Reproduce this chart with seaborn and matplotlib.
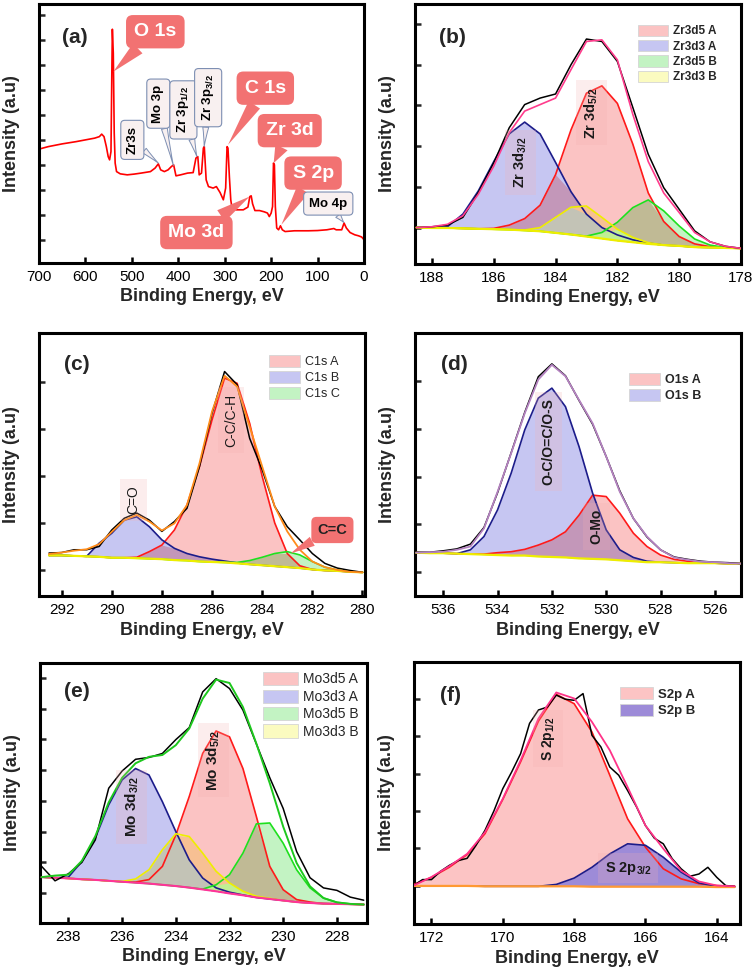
import matplotlib
matplotlib.use("Agg")
import matplotlib.pyplot as plt
import matplotlib.colors as mcolors
from matplotlib.patches import Patch
import numpy as np
import seaborn as sns

# ---------------- (a) survey spectrum ----------------
SURVEY_EV = [700, 680, 650, 620, 600, 580, 570, 565, 560, 555, 551, 548, 545, 543, 542, 540, 538, 536,
             533, 525, 510, 495, 480, 460, 450, 443, 438, 430, 422, 415, 410, 405, 395, 380, 368, 362,
             358, 355, 350, 346, 344, 340, 335, 325, 318, 310, 303, 298, 295, 293, 290, 287, 284, 275,
             260, 250, 246, 243, 240, 235, 225, 215, 208, 204, 200, 197, 195, 193, 191, 188, 184, 180,
             176, 170, 150, 120, 100, 80, 65, 60, 48, 43, 38, 30, 20, 12, 5, 0]
SURVEY_I = [4.63, 4.73, 4.84, 4.93, 5.00, 5.07, 5.13, 5.23, 5.13, 4.73, 4.33, 4.20, 4.53, 7.93, 9.43, 8.47,
            5.27, 4.07, 3.73, 3.64, 3.60, 3.63, 3.67, 3.73, 3.87, 4.04, 3.80, 3.73, 3.80, 3.93, 4.00, 3.56,
            3.60, 3.67, 3.69, 4.27, 4.33, 3.60, 3.67, 4.67, 4.73, 3.40, 3.13, 3.07, 3.13, 2.89, 2.60, 3.07,
            4.73, 4.67, 3.53, 2.60, 2.23, 2.20, 2.20, 2.31, 2.73, 2.76, 2.44, 2.17, 2.17, 2.12, 2.07, 1.93,
            2.07, 2.33, 4.07, 4.00, 2.33, 1.47, 1.40, 1.56, 1.40, 1.33, 1.36, 1.36, 1.37, 1.40, 1.45, 1.40,
            1.40, 1.67, 1.47, 1.29, 1.20, 1.16, 1.11, 1.00]

# ---------------- (b) Zr 3d ----------------
ZR_EV = [188.5, 188.0, 187.5, 187.0, 186.5, 186.0, 185.5, 185.0, 184.5, 184.0, 183.5, 183.0, 182.5,
         182.0, 181.5, 181.0, 180.5, 180.0, 179.5, 179.0, 178.5, 178.0]
ZR_RAW = [1.00, 1.02, 1.06, 1.25, 1.86, 2.59, 3.45, 4.02, 4.18, 4.28, 5.00, 5.63, 5.57, 5.08, 3.95, 2.80,
          1.98, 1.45, 0.92, 0.65, 0.54, 0.49]
ZR_ENV = [1.00, 1.02, 1.08, 1.29, 1.82, 2.51, 3.33, 3.86, 4.02, 4.18, 4.88, 5.57, 5.61, 5.12, 3.78, 2.62,
          1.85, 1.37, 0.88, 0.65, 0.54, 0.49]
ZR_BASE = [1.00, 0.99, 0.99, 0.98, 0.97, 0.96, 0.95, 0.93, 0.91, 0.87, 0.83, 0.78, 0.73, 0.68, 0.64, 0.60,
           0.57, 0.55, 0.52, 0.51, 0.50, 0.49]
ZR3D5_A = [1.00, 0.99, 0.99, 0.98, 0.97, 0.98, 1.06, 1.22, 1.55, 2.30, 3.40, 4.30, 4.48, 4.05, 3.05, 1.85,
           1.15, 0.78, 0.60, 0.53, 0.50, 0.49]
ZR3D3_A = [1.00, 0.99, 1.02, 1.33, 1.90, 2.62, 3.30, 3.59, 3.30, 2.60, 1.88, 1.33, 1.00, 0.82, 0.70, 0.62,
           0.57, 0.55, 0.52, 0.51, 0.50, 0.49]
ZR3D5_B = [1.00, 0.99, 0.99, 0.98, 0.97, 0.96, 0.95, 0.93, 0.91, 0.87, 0.83, 0.79, 0.88, 1.13, 1.49, 1.68,
           1.41, 1.04, 0.72, 0.57, 0.51, 0.49]
ZR3D3_B = [1.00, 0.99, 0.99, 0.98, 0.97, 0.96, 0.95, 0.94, 1.00, 1.25, 1.50, 1.53, 1.25, 0.96, 0.76, 0.63,
           0.57, 0.55, 0.52, 0.51, 0.50, 0.49]

# ---------------- (c) C 1s ----------------
C_EV = [292.5, 292.0, 291.5, 291.0, 290.5, 290.0, 289.5, 289.0, 288.5, 288.0, 287.5, 287.0, 286.5,
        286.0, 285.5, 285.0, 284.5, 284.0, 283.5, 283.0, 282.5, 282.0, 281.5, 281.0, 280.5, 280.0]
C_RAW = [1.36, 1.37, 1.43, 1.43, 1.50, 1.85, 2.10, 2.21, 2.06, 1.82, 2.03, 2.31, 3.20, 4.33, 5.22, 4.94,
         3.80, 3.13, 2.35, 1.92, 1.64, 1.35, 1.14, 1.04, 0.99, 0.95]
C_ENV = [1.34, 1.37, 1.41, 1.44, 1.55, 1.81, 2.06, 2.17, 2.03, 1.84, 1.99, 2.38, 3.27, 4.37, 5.13, 4.90,
         4.05, 3.20, 2.35, 1.82, 1.43, 1.18, 1.06, 1.00, 0.96, 0.95]
C_BASE = [1.31, 1.31, 1.30, 1.29, 1.28, 1.26, 1.26, 1.25, 1.24, 1.23, 1.21, 1.20, 1.18, 1.17, 1.16, 1.14,
          1.12, 1.10, 1.08, 1.06, 1.04, 1.01, 0.99, 0.98, 0.96, 0.95]
C1S_A = [1.31, 1.31, 1.30, 1.29, 1.28, 1.26, 1.26, 1.27, 1.39, 1.53, 1.85, 2.38, 3.20, 4.19, 5.08, 4.97,
         4.12, 2.99, 2.00, 1.35, 1.09, 1.01, 0.99, 0.98, 0.96, 0.95]
C1S_B = [1.31, 1.31, 1.30, 1.29, 1.57, 1.78, 2.06, 2.13, 1.92, 1.64, 1.46, 1.35, 1.28, 1.23, 1.19, 1.15,
         1.12, 1.10, 1.08, 1.06, 1.04, 1.01, 0.99, 0.98, 0.96, 0.95]
C1S_C = [1.31, 1.31, 1.30, 1.29, 1.28, 1.26, 1.26, 1.25, 1.24, 1.23, 1.21, 1.20, 1.18, 1.17, 1.16, 1.16,
         1.20, 1.27, 1.35, 1.39, 1.32, 1.18, 1.06, 1.00, 0.96, 0.95]

# ---------------- (d) O 1s ----------------
O_EV = [537.0, 536.5, 536.0, 535.5, 535.0, 534.5, 534.0, 533.5, 533.0, 532.5, 532.0, 531.5, 531.0,
        530.5, 530.0, 529.5, 529.0, 528.5, 528.0, 527.5, 527.0, 526.5, 526.0, 525.5, 525.0]
O_RAW = [1.41, 1.41, 1.44, 1.48, 1.58, 1.93, 2.66, 3.50, 4.35, 5.10, 5.37, 5.12, 4.60, 4.10, 3.42, 2.70,
         2.12, 1.73, 1.46, 1.31, 1.26, 1.22, 1.20, 1.19, 1.17]
O_ENV = [1.40, 1.41, 1.42, 1.46, 1.53, 1.91, 2.68, 3.49, 4.33, 5.04, 5.35, 5.11, 4.61, 4.12, 3.42, 2.68,
         2.12, 1.74, 1.46, 1.30, 1.25, 1.21, 1.20, 1.18, 1.17]
O_BASE = [1.40, 1.39, 1.39, 1.38, 1.37, 1.36, 1.35, 1.34, 1.34, 1.32, 1.31, 1.30, 1.28, 1.27, 1.26, 1.24,
          1.22, 1.20, 1.20, 1.19, 1.18, 1.18, 1.18, 1.17, 1.17]
O1S_A = [1.40, 1.39, 1.39, 1.38, 1.37, 1.37, 1.40, 1.42, 1.47, 1.56, 1.67, 1.84, 2.19, 2.61, 2.58, 2.23,
         1.81, 1.53, 1.35, 1.26, 1.22, 1.18, 1.18, 1.17, 1.17]
O1S_B = [1.40, 1.39, 1.39, 1.38, 1.46, 1.74, 2.30, 3.07, 3.98, 4.65, 4.86, 4.47, 3.63, 2.65, 1.88, 1.46,
         1.30, 1.22, 1.20, 1.19, 1.18, 1.18, 1.18, 1.17, 1.17]

# ---------------- (e) Mo 3d ----------------
MO_EV = [239.0, 238.5, 238.0, 237.5, 237.0, 236.5, 236.0, 235.5, 235.0, 234.5, 234.0, 233.5, 233.0,
         232.5, 232.0, 231.5, 231.0, 230.5, 230.0, 229.5, 229.0, 228.5, 228.0, 227.5, 227.0]
MO_RAW = [1.87, 1.40, 1.63, 2.00, 2.73, 4.41, 4.97, 5.35, 5.41, 5.54, 5.99, 6.38, 7.54, 7.97, 7.65, 6.95,
          5.85, 4.75, 3.75, 2.35, 1.50, 1.17, 1.09, 0.87, 0.77]
MO_ENV = [1.52, 1.57, 1.60, 2.05, 2.85, 3.95, 4.75, 5.22, 5.43, 5.49, 5.81, 6.35, 7.32, 7.94, 7.83, 7.05,
          5.86, 4.57, 3.16, 1.98, 1.22, 0.84, 0.70, 0.65, 0.63]
MO_BASE = [1.52, 1.50, 1.48, 1.45, 1.43, 1.40, 1.37, 1.34, 1.31, 1.27, 1.23, 1.18, 1.12, 1.06, 0.99, 0.93,
           0.86, 0.81, 0.76, 0.71, 0.68, 0.66, 0.65, 0.64, 0.63]
MO3D5_A = [1.52, 1.50, 1.48, 1.45, 1.43, 1.40, 1.37, 1.36, 1.44, 1.87, 2.89, 4.14, 5.54, 6.27, 6.08, 5.05,
           3.49, 1.87, 1.11, 0.79, 0.71, 0.66, 0.65, 0.64, 0.63]
MO3D3_A = [1.52, 1.50, 1.52, 2.03, 2.79, 3.87, 4.68, 5.05, 4.84, 3.97, 3.00, 2.08, 1.49, 1.17, 1.03, 0.94,
           0.86, 0.81, 0.76, 0.71, 0.68, 0.66, 0.65, 0.64, 0.63]
MO3D5_B = [1.52, 1.50, 1.48, 1.45, 1.43, 1.40, 1.37, 1.34, 1.31, 1.27, 1.23, 1.18, 1.13, 1.27, 1.60, 2.30,
           3.25, 3.28, 2.62, 1.76, 1.17, 0.84, 0.70, 0.65, 0.63]
MO3D3_B = [1.52, 1.50, 1.48, 1.45, 1.43, 1.40, 1.38, 1.46, 1.76, 2.41, 2.93, 2.84, 2.30, 1.71, 1.33, 1.06,
           0.90, 0.83, 0.76, 0.71, 0.68, 0.66, 0.65, 0.64, 0.63]

# ---------------- (f) S 2p ----------------
S_EV = [172.5, 172.0, 171.5, 171.0, 170.5, 170.0, 169.5, 169.0, 168.5, 168.0, 167.5, 167.0, 166.5,
        166.0, 165.5, 165.0, 164.5, 164.0, 163.5]
S_ENV = [1.00, 1.23, 1.52, 1.85, 2.43, 3.33, 4.36, 5.48, 6.18, 6.02, 5.39, 4.63, 3.64, 2.61, 1.99, 1.40,
         1.11, 1.00, 0.98]
S_BASE = [0.99, 0.99, 0.99, 0.99, 0.98, 0.98, 0.98, 0.98, 0.98, 0.98, 0.97, 0.97, 0.97, 0.97, 0.97, 0.97,
          0.97, 0.96, 0.96]
S2P_A = [1.03, 1.22, 1.49, 1.83, 2.39, 3.31, 4.32, 5.41, 6.13, 5.88, 5.12, 3.96, 2.79, 2.03, 1.45, 1.18,
         1.05, 1.00, 0.98]
S2P_B = [0.99, 0.99, 0.99, 0.99, 0.98, 0.98, 0.98, 0.98, 1.03, 1.20, 1.49, 1.85, 2.12, 2.08, 1.76, 1.36,
         1.07, 0.98, 0.96]
S_RAW_EV = [172.5, 172.25, 172.0, 171.75, 171.5, 171.25, 171.0, 170.75, 170.5, 170.25, 170.0, 169.75,
            169.5, 169.25, 169.0, 168.75, 168.5, 168.25, 168.0, 167.75, 167.5, 167.25, 167.0, 166.75,
            166.5, 166.25, 166.0, 165.75, 165.5, 165.25, 165.0, 164.75, 164.5, 164.25, 164.0, 163.75, 163.5]
S_RAW = [1.00, 1.16, 1.16, 1.38, 1.54, 1.67, 1.73, 2.08, 2.48, 3.00, 3.60, 4.05, 4.54, 5.35, 5.71, 5.79,
         6.11, 6.00, 5.97, 6.15, 5.03, 4.72, 4.18, 3.96, 3.55, 3.11, 2.61, 2.27, 2.12, 1.72, 1.45, 1.25,
         1.31, 1.49, 1.22, 1.00, 0.98]

PINK, LAV, LGREEN, LYEL = "#fbc3c3", "#c6c6f2", "#c3f3c3", "#fbfbc0"
RED, NAVY, YEL, GRN = "#ff1a1a", "#1c1c8a", "#eeee00", "#1ee01e"
CALLOUT = "#f27272"

sns.set_theme(style="ticks")
plt.rcParams["font.family"] = ["Liberation Sans", "DejaVu Sans"]
plt.rcParams["mathtext.default"] = "regular"


def multiply(c1, c2):
    a, b = np.array(mcolors.to_rgb(c1)), np.array(mcolors.to_rgb(c2))
    return tuple(a * b)


def style_axes(ax, xlim, xticks, ylim, yticks, tag, tag_xy):
    ax.set_xlim(*xlim)
    ax.set_ylim(*ylim)
    ax.set_xticks(xticks)
    ax.set_yticks(yticks)
    ax.set_yticklabels([])
    ax.tick_params(axis="x", direction="in", length=4, width=1.8, labelsize=11, pad=5,
                   bottom=True, top=False, colors="black")
    ax.tick_params(axis="y", direction="in", length=4, width=1.8, left=True, right=False)
    for s in ax.spines.values():
        s.set_visible(True)
        s.set_linewidth(2.2)
        s.set_color("black")
    ax.set_xlabel("Binding Energy, eV", fontsize=13, fontweight="bold")
    ax.set_ylabel("Intensity (a.u)", fontsize=13, fontweight="bold")
    ax.xaxis.set_label_coords(0.5, -0.098)
    ax.yaxis.set_label_coords(-0.058, 0.5)
    ax.text(tag_xy[0], tag_xy[1], tag, transform=ax.transAxes, fontsize=15,
            fontweight="bold", ha="center", va="center")


def draw_fit(ax, ev, base, comps, fills, edges, overlap=True):
    ev = np.asarray(ev)
    base = np.asarray(base)
    ys = [np.asarray(c) for c in comps]
    for y, fc in zip(ys, fills):
        ax.fill_between(ev, base, y, color=fc, lw=0, zorder=1)
    if overlap:
        for i in range(len(ys)):
            for j in range(i + 1, len(ys)):
                low = np.minimum(ys[i], ys[j])
                ax.fill_between(ev, base, low, color=multiply(fills[i], fills[j]), lw=0, zorder=1.5)
    for y, ec in zip(ys, edges):
        sns.lineplot(x=ev, y=y, ax=ax, color=ec, lw=1.2, zorder=3)


def add_legend(ax, labels, fills, anchor, size, bold):
    handles = [Patch(facecolor=f, edgecolor="#d5d5d5", lw=0.6) for f in fills]
    ax.legend(handles, labels, loc="upper left", bbox_to_anchor=anchor, frameon=False,
              prop={"size": size, "weight": "bold" if bold else "normal"},
              handlelength=2.5, handleheight=1.1, handletextpad=0.4, labelspacing=0.22,
              borderpad=0, borderaxespad=0)


def peak_label(ax, x, y, text, size=10.5, rotation=90, weight="bold"):
    ax.text(x, y, text, rotation=rotation, ha="center", va="center", fontsize=size,
            fontweight=weight, color="#1a1a1a", zorder=6,
            bbox=dict(boxstyle="square,pad=0.45", fc="#f4b0b0", ec="none", alpha=0.22))


def callout(ax, text, xy, xytext, big=True, rotation=0, size=None, color="white"):
    if big:
        bbox = dict(boxstyle="round,pad=0.42,rounding_size=0.35", fc=CALLOUT, ec="none")
        arrow = dict(arrowstyle="wedge,tail_width=0.7,shrink_factor=0.5", fc=CALLOUT, ec="none",
                     shrinkA=0, shrinkB=0)
        fs = size or 14
    else:
        bbox = dict(boxstyle="round,pad=0.42,rounding_size=0.3", fc="#f8f0f0", ec="#7d8fb3", lw=0.8)
        arrow = dict(arrowstyle="wedge,tail_width=0.45,shrink_factor=0.4", fc="#f8f0f0",
                     ec="#7d8fb3", lw=0.7, shrinkA=0, shrinkB=0)
        fs = size or 9.5
        color = "black"
    ax.annotate(text, xy=xy, xytext=xytext, textcoords="data", ha="center", va="center",
                fontsize=fs, fontweight="bold", color=color, rotation=rotation,
                bbox=bbox, arrowprops=arrow, zorder=5)


fig = plt.figure(figsize=(7.56, 9.77), dpi=100)
ax_a = fig.add_axes([0.0516, 0.7308, 0.4299, 0.2651])
ax_b = fig.add_axes([0.5489, 0.7298, 0.4312, 0.2661])
ax_c = fig.add_axes([0.0516, 0.3900, 0.4312, 0.2692])
ax_d = fig.add_axes([0.5489, 0.3900, 0.4312, 0.2692])
ax_e = fig.add_axes([0.0529, 0.0553, 0.4325, 0.2661])
ax_f = fig.add_axes([0.5476, 0.0543, 0.4312, 0.2682])

# (a) survey
sns.lineplot(x=SURVEY_EV, y=SURVEY_I, ax=ax_a, color="#ff0000", lw=1.2, zorder=2)
style_axes(ax_a, (700, 0), range(700, -1, -100), (0.07, 10.44), range(1, 11), "(a)", (0.11, 0.87))
callout(ax_a, "O 1s", (540, 7.73), (449.5, 9.33))
callout(ax_a, "C 1s", (293, 4.8), (212.6, 7.07))
callout(ax_a, "Zr 3d", (194.6, 4.07), (160, 5.37))
callout(ax_a, "S 2p", (178, 1.6), (109.7, 3.67))
callout(ax_a, "Mo 3d", (246.4, 2.73), (361, 1.29))
callout(ax_a, "Zr3s", (443, 4.07), (499, 5.0), big=False, rotation=90)
callout(ax_a, "Mo 3p", (410.6, 3.97), (443, 6.45), big=False, rotation=90)
callout(ax_a, "Zr 3p$_{1/2}$", (360, 4.33), (389, 6.2), big=False, rotation=90)
callout(ax_a, "Zr 3p$_{3/2}$", (344.3, 4.73), (335.7, 6.69), big=False, rotation=90)
callout(ax_a, "Mo 4p", (43.4, 1.69), (77, 2.45), big=False)

# (b) Zr 3d
draw_fit(ax_b, ZR_EV, ZR_BASE, [ZR3D5_A, ZR3D3_A, ZR3D5_B, ZR3D3_B],
         [PINK, LAV, LGREEN, LYEL], [RED, NAVY, GRN, YEL])
sns.lineplot(x=ZR_EV, y=ZR_BASE, ax=ax_b, color=YEL, lw=1.6, zorder=3)
sns.lineplot(x=ZR_EV, y=ZR_RAW, ax=ax_b, color="black", lw=1.1, zorder=4)
sns.lineplot(x=ZR_EV, y=ZR_ENV, ax=ax_b, color="#ff3c8c", lw=1.2, zorder=4)
style_axes(ax_b, (188.55, 178.0), range(188, 177, -2), (0.106, 6.49), range(1, 7), "(b)", (0.114, 0.87))
peak_label(ax_b, 185.14, 2.60, "Zr 3d$_{3/2}$")
peak_label(ax_b, 182.84, 3.82, "Zr 3d$_{5/2}$")
add_legend(ax_b, ["Zr3d5 A", "Zr3d3 A", "Zr3d5 B", "Zr3d3 B"], [PINK, LAV, LGREEN, LYEL],
           (0.685, 0.92), 8.5, True)

# (c) C 1s
draw_fit(ax_c, C_EV, C_BASE, [C1S_A, C1S_B, C1S_C], [PINK, LAV, LGREEN], [RED, NAVY, GRN])
sns.lineplot(x=C_EV, y=C_BASE, ax=ax_c, color=YEL, lw=1.6, zorder=3)
sns.lineplot(x=C_EV, y=C_RAW, ax=ax_c, color="black", lw=1.1, zorder=4)
sns.lineplot(x=C_EV, y=C_ENV, ax=ax_c, color="#ff8c1a", lw=1.3, zorder=4)
style_axes(ax_c, (292.9, 279.9), range(292, 279, -2), (0.447, 6.04), range(1, 6), "(c)", (0.117, 0.88))
peak_label(ax_c, 289.13, 2.49, "C=O", size=10, weight="normal")
peak_label(ax_c, 285.24, 4.19, "C-C/C-H", size=10, weight="normal")
callout(ax_c, "C=C", (282.87, 1.35), (281.2, 1.85), size=10.5, color="#222222")
add_legend(ax_c, ["C1s A", "C1s B", "C1s C"], [PINK, LAV, LGREEN], (0.705, 0.916), 9, False)

# (d) O 1s
draw_fit(ax_d, O_EV, O_BASE, [O1S_A, O1S_B], [PINK, LAV], [RED, NAVY])
sns.lineplot(x=O_EV, y=O_BASE, ax=ax_d, color=YEL, lw=1.6, zorder=3)
sns.lineplot(x=O_EV, y=O_RAW, ax=ax_d, color="black", lw=1.1, zorder=4)
sns.lineplot(x=O_EV, y=O_ENV, ax=ax_d, color="#b482c0", lw=1.3, zorder=4)
style_axes(ax_d, (537.04, 525.04), range(536, 525, -2), (0.49, 6.02), range(1, 6), "(d)", (0.12, 0.88))
peak_label(ax_d, 532.13, 3.74, "O-C/O=C/O-S", size=10)
peak_label(ax_d, 530.36, 1.95, "O-Mo", size=10)
add_legend(ax_d, ["O1s A", "O1s B"], [PINK, LAV], (0.656, 0.848), 9, True)

# (e) Mo 3d
draw_fit(ax_e, MO_EV, MO_BASE, [MO3D5_A, MO3D3_A, MO3D5_B, MO3D3_B],
         [PINK, LAV, LGREEN, LYEL], [RED, NAVY, GRN, YEL])
sns.lineplot(x=MO_EV, y=MO_BASE, ax=ax_e, color="#ff3399", lw=1.5, zorder=3)
sns.lineplot(x=MO_EV, y=MO_RAW, ax=ax_e, color="black", lw=1.1, zorder=4)
sns.lineplot(x=MO_EV, y=MO_ENV, ax=ax_e, color="#1ec81e", lw=1.4, zorder=4)
style_axes(ax_e, (239.06, 226.88), range(238, 227, -2), (0.03, 8.48), range(1, 9), "(e)", (0.113, 0.89))
peak_label(ax_e, 235.64, 3.81, "Mo 3d$_{3/2}$", size=11)
peak_label(ax_e, 232.6, 5.32, "Mo 3d$_{5/2}$", size=11)
add_legend(ax_e, ["Mo3d5 A", "Mo3d3 A", "Mo3d5 B", "Mo3d3 B"], [PINK, LAV, LGREEN, LYEL],
           (0.682, 0.965), 10, False)

# (f) S 2p
draw_fit(ax_f, S_EV, S_BASE, [S2P_A, S2P_B], ["#fcc4c4", "#9d8bd8"], [RED, NAVY], overlap=False)
sns.lineplot(x=S_EV, y=S_BASE, ax=ax_f, color="#ff9933", lw=1.6, zorder=3)
sns.lineplot(x=S_RAW_EV, y=S_RAW, ax=ax_f, color="black", lw=1.1, zorder=4)
sns.lineplot(x=S_EV, y=S_ENV, ax=ax_f, color="#ff3388", lw=1.3, zorder=4)
style_axes(ax_f, (172.49, 163.35), range(172, 163, -2), (-0.03, 7.0), range(1, 7), "(f)", (0.113, 0.87))
peak_label(ax_f, 168.73, 4.94, "S 2p$_{1/2}$", size=10)
peak_label(ax_f, 166.48, 1.47, "S 2p$_{3/2}$", size=10.5, rotation=0)
add_legend(ax_f, ["S2p A", "S2p B"], ["#fcc4c4", "#9d8bd8"], (0.632, 0.905), 9.5, True)

fig.savefig("out.png", dpi=100)
